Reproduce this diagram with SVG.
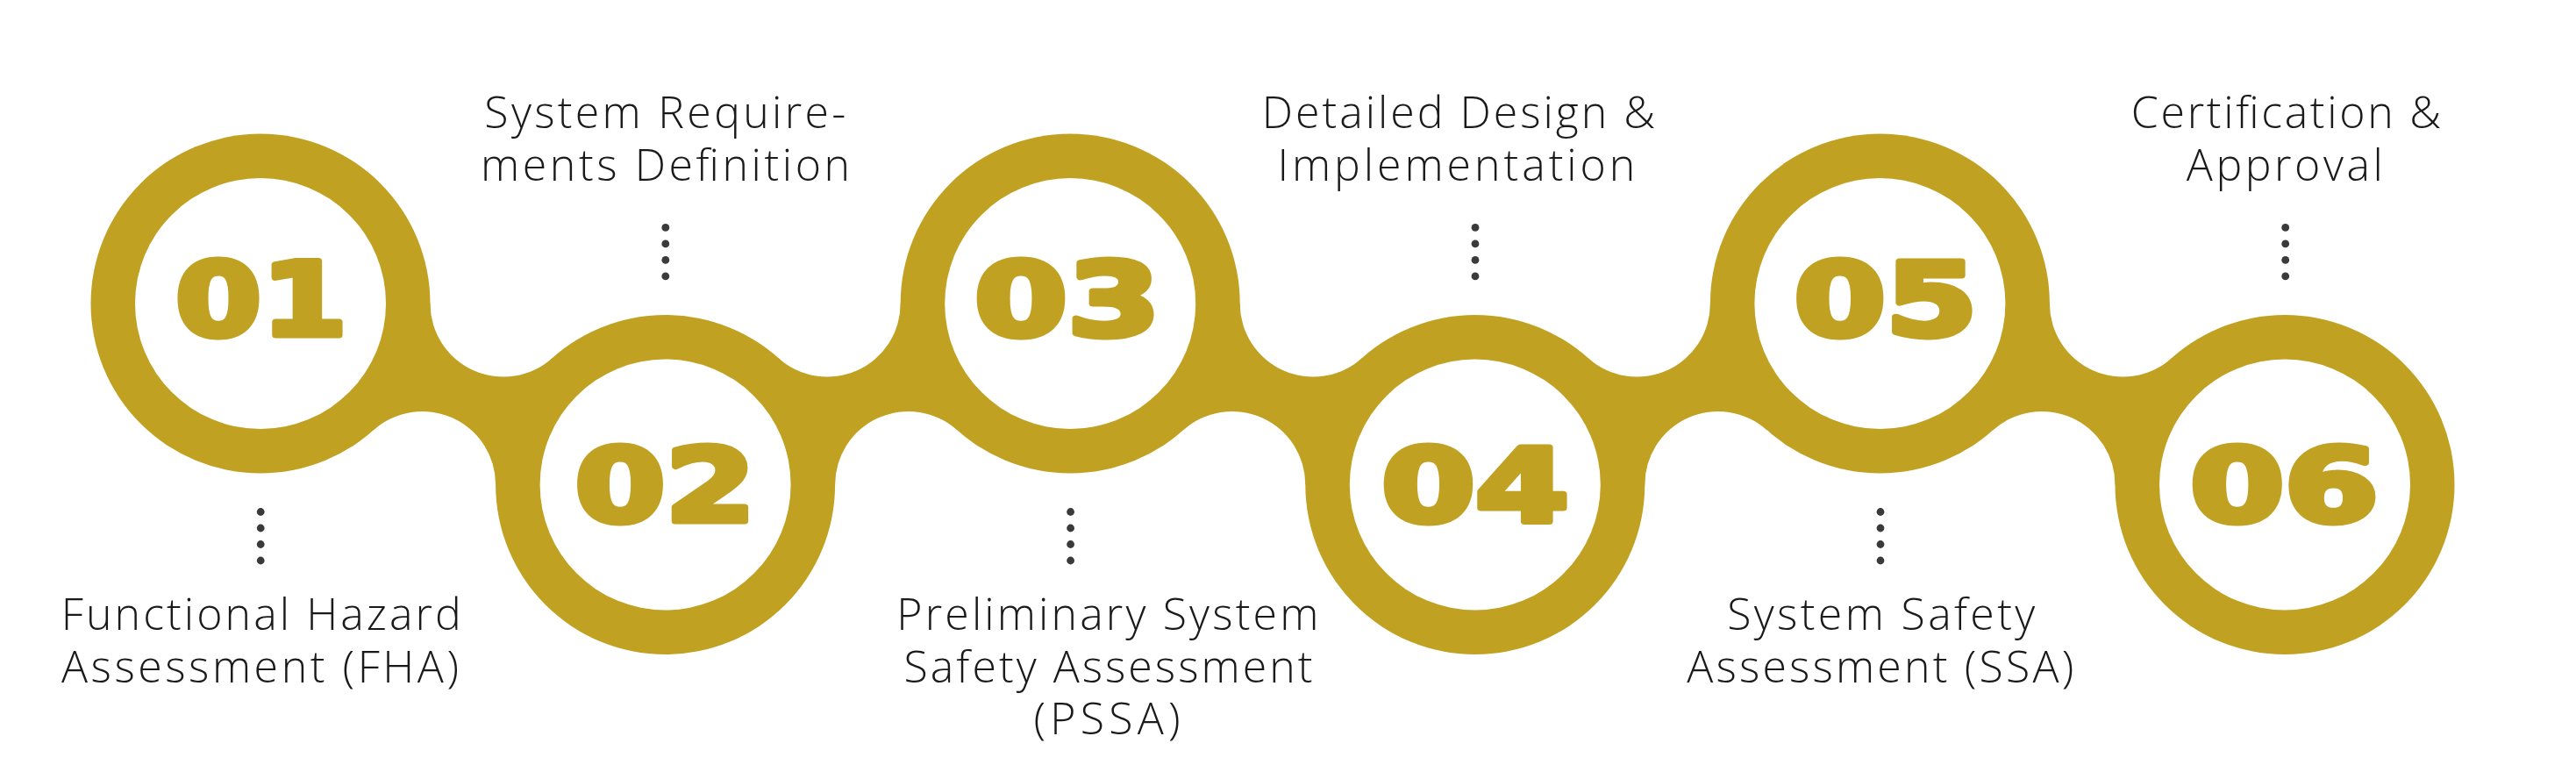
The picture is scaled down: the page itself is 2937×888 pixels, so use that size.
<svg xmlns="http://www.w3.org/2000/svg" width="2937" height="888" viewBox="0 0 2937 888">
<style>
.ring{fill:#C1A122}
.band{fill:#C1A122}
.hole{fill:#fff}
.num{font-family:"DejaVu Sans",sans-serif;font-weight:bold;font-size:116px;fill:#C1A122;stroke:#C1A122;stroke-width:7;stroke-linejoin:round;text-anchor:middle}
.lbl{font-family:"Open Sans","Liberation Sans",sans-serif;font-weight:300;font-size:50px;fill:#1a1a1a;text-anchor:middle}
.dot{fill:#3a3a3a}
</style>
<defs>
<g id="dots">
<circle class="dot" cx="0" cy="0" r="4.4"/>
<circle class="dot" cx="0" cy="18.5" r="4.4"/>
<circle class="dot" cx="0" cy="37" r="4.4"/>
<circle class="dot" cx="0" cy="55.5" r="4.4"/>
</g>
</defs>
<rect width="2937" height="888" fill="#fff"/>
<g id="connectors">
<path class="band" d="M490.5,346 A83.5,83.5 0 0 0 629.65,408.25 L758.6,552.5 L565.1,552.5 A83.5,83.5 0 0 0 425.95,490.25 L297,346 Z"/>
<path class="band" d="M952.1,552.5 A83.5,83.5 0 0 1 1091.25,490.25 L1220.2,346 L1026.7,346 A83.5,83.5 0 0 1 887.55,408.25 L758.6,552.5 Z"/>
<path class="band" d="M1413.7,346 A83.5,83.5 0 0 0 1552.85,408.25 L1681.8,552.5 L1488.3,552.5 A83.5,83.5 0 0 0 1349.15,490.25 L1220.2,346 Z"/>
<path class="band" d="M1875.3,552.5 A83.5,83.5 0 0 1 2014.45,490.25 L2143.4,346 L1949.9,346 A83.5,83.5 0 0 1 1810.75,408.25 L1681.8,552.5 Z"/>
<path class="band" d="M2336.9,346 A83.5,83.5 0 0 0 2476.05,408.25 L2605,552.5 L2411.5,552.5 A83.5,83.5 0 0 0 2272.35,490.25 L2143.4,346 Z"/>
</g>
<g id="node-01">
<circle class="ring" cx="297" cy="346" r="193.5"/>
<circle class="hole" cx="297" cy="346" r="143"/>
<text class="num" x="298" y="382" textLength="196" lengthAdjust="spacingAndGlyphs">01</text>
<use href="#dots" x="297.2" y="583.5"/>
<text class="lbl" x="297.8" y="718" textLength="456">Functional Hazard</text>
<text class="lbl" x="296.5" y="777.7" textLength="453">Assessment (FHA)</text>
</g>
<g id="node-02">
<circle class="ring" cx="758.6" cy="552.5" r="193.5"/>
<circle class="hole" cx="758.6" cy="552.5" r="143"/>
<text class="num" x="758.6" y="593.5" textLength="206" lengthAdjust="spacingAndGlyphs">02</text>
<use href="#dots" x="758.8" y="259.4"/>
<text class="lbl" x="758.3" y="146" textLength="412">System Require-</text>
<text class="lbl" x="758.6" y="205.8" textLength="421">ments Definition</text>
</g>
<g id="node-03">
<circle class="ring" cx="1220.2" cy="346" r="193.5"/>
<circle class="hole" cx="1220.2" cy="346" r="143"/>
<text class="num" x="1217" y="382" textLength="212" lengthAdjust="spacingAndGlyphs">03</text>
<use href="#dots" x="1220.6" y="583.5"/>
<text class="lbl" x="1262.8" y="718" textLength="481">Preliminary System</text>
<text class="lbl" x="1263.5" y="777.7" textLength="466">Safety Assessment</text>
<text class="lbl" x="1262" y="837.4" textLength="167">(PSSA)</text>
</g>
<g id="node-04">
<circle class="ring" cx="1681.8" cy="552.5" r="193.5"/>
<circle class="hole" cx="1681.8" cy="552.5" r="143"/>
<text class="num" x="1682" y="593.5" textLength="214" lengthAdjust="spacingAndGlyphs">04</text>
<use href="#dots" x="1682" y="259.4"/>
<text class="lbl" x="1662.8" y="146" textLength="448">Detailed Design &amp;</text>
<text class="lbl" x="1660.4" y="205.8" textLength="408">Implementation</text>
</g>
<g id="node-05">
<circle class="ring" cx="2143.4" cy="346" r="193.5"/>
<circle class="hole" cx="2143.4" cy="346" r="143"/>
<text class="num" x="2150" y="382" textLength="209" lengthAdjust="spacingAndGlyphs">05</text>
<use href="#dots" x="2144" y="583.5"/>
<text class="lbl" x="2144.7" y="718" textLength="351">System Safety</text>
<text class="lbl" x="2143.8" y="777.7" textLength="441">Assessment (SSA)</text>
</g>
<g id="node-06">
<circle class="ring" cx="2605" cy="552.5" r="193.5"/>
<circle class="hole" cx="2605" cy="552.5" r="143"/>
<text class="num" x="2604.6" y="593.5" textLength="215" lengthAdjust="spacingAndGlyphs">06</text>
<use href="#dots" x="2605.7" y="259.4"/>
<text class="lbl" x="2606.3" y="146" textLength="353">Certification &amp;</text>
<text class="lbl" x="2604.8" y="205.8" textLength="224">Approval</text>
</g>
</svg>
